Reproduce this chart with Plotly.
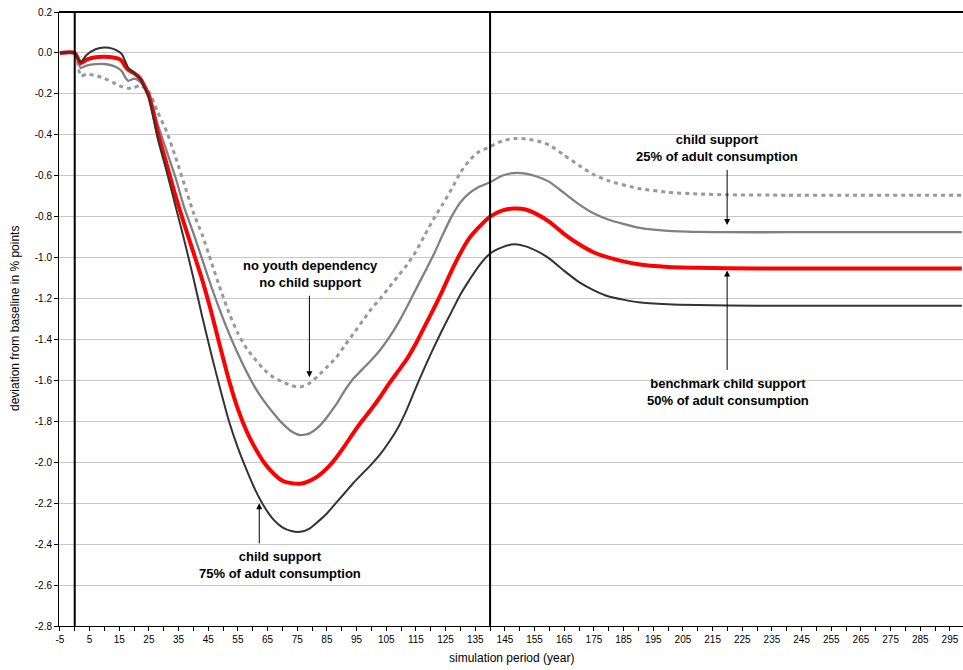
import plotly.graph_objects as go

# Simulation years (category axis) and the four scenarios, deviation in % points
years = [-5, 0, 2, 4, 7, 10, 13, 15, 16, 17, 18, 20, 22, 25, 28, 31, 34, 37, 40, 43,
         46, 49, 52, 55, 58, 61, 64, 67, 70, 73, 76, 79, 82, 85, 88, 91, 94, 97, 100, 103,
         106, 109, 112, 115, 118, 121, 124, 127, 130, 133, 136, 140, 144, 148, 152, 156, 160, 165, 170, 175,
         180, 190, 200, 210, 220, 240, 260, 280, 299]

support_75 = [0, 0, -0.045, -0.01, 0.018, 0.027, 0.02, 0.005, -0.008, -0.04, -0.072, -0.097, -0.125, -0.22, -0.42, -0.58, -0.75, -0.92, -1.10, -1.29,
              -1.47, -1.64, -1.80, -1.93, -2.04, -2.14, -2.22, -2.28, -2.318, -2.336, -2.34, -2.325, -2.29, -2.25, -2.20, -2.15, -2.10, -2.055, -2.01, -1.96,
              -1.90, -1.83, -1.74, -1.635, -1.535, -1.44, -1.35, -1.265, -1.18, -1.11, -1.045, -0.98, -0.95, -0.935, -0.945, -0.97, -1.005, -1.065, -1.12, -1.16,
              -1.19, -1.218, -1.228, -1.232, -1.234, -1.235, -1.235, -1.235, -1.235]

support_50 = [0, 0, -0.05, -0.033, -0.021, -0.019, -0.022, -0.03, -0.042, -0.065, -0.082, -0.099, -0.124, -0.21, -0.39, -0.545, -0.70, -0.84, -0.975, -1.11,
              -1.265, -1.435, -1.60, -1.74, -1.85, -1.935, -2.005, -2.055, -2.09, -2.102, -2.105, -2.092, -2.068, -2.03, -1.98, -1.92, -1.855, -1.795, -1.74, -1.68,
              -1.615, -1.555, -1.495, -1.42, -1.335, -1.25, -1.16, -1.065, -0.978, -0.905, -0.855, -0.80, -0.77, -0.76, -0.765, -0.79, -0.825, -0.885, -0.935, -0.975,
              -1.00, -1.033, -1.046, -1.050, -1.052, -1.053, -1.053, -1.053, -1.053]

support_25 = [0, 0, -0.073, -0.062, -0.055, -0.054, -0.063, -0.078, -0.092, -0.118, -0.136, -0.126, -0.14, -0.20, -0.35, -0.48, -0.61, -0.76, -0.88, -1.01,
              -1.14, -1.26, -1.37, -1.47, -1.56, -1.64, -1.705, -1.76, -1.81, -1.848, -1.867, -1.86, -1.83, -1.78, -1.72, -1.65, -1.59, -1.545, -1.50, -1.45,
              -1.39, -1.32, -1.24, -1.155, -1.07, -0.985, -0.89, -0.80, -0.73, -0.685, -0.656, -0.632, -0.60, -0.587, -0.59, -0.605, -0.63, -0.685, -0.74, -0.785,
              -0.815, -0.853, -0.869, -0.874, -0.876, -0.876, -0.876, -0.876, -0.876]

no_youth = [0, 0, -0.112, -0.104, -0.11, -0.124, -0.145, -0.16, -0.166, -0.17, -0.173, -0.17, -0.158, -0.19, -0.29, -0.385, -0.51, -0.645, -0.78, -0.89,
            -1.02, -1.15, -1.27, -1.37, -1.445, -1.50, -1.55, -1.585, -1.607, -1.625, -1.632, -1.615, -1.578, -1.535, -1.49, -1.43, -1.37, -1.31, -1.25, -1.20,
            -1.145, -1.09, -1.035, -0.97, -0.89, -0.81, -0.74, -0.665, -0.585, -0.525, -0.485, -0.458, -0.43, -0.418, -0.42, -0.43, -0.45, -0.50, -0.55, -0.595,
            -0.625, -0.662, -0.681, -0.689, -0.693, -0.695, -0.695, -0.695, -0.695]

y_tick_labels = ["-2.8", "-2.6", "-2.4", "-2.2", "-2.0", "-1.8", "-1.6", "-1.4", "-1.2", "-1.0",
                 "-0.8", "-0.6", "-0.4", "-0.2", "0.0", "0.2"]
y_tick_vals = [float(t) for t in y_tick_labels]
x_tick_vals = list(range(-5, 300, 5))
x_tick_labels = [str(v) if (v + 5) % 10 == 0 else "" for v in x_tick_vals]

marker_years = [0, 140]

FONT = "Liberation Sans, Arial, sans-serif"

fig = go.Figure()

series = [
    (no_youth, dict(color="#999999", width=3, dash="4px,4px")),
    (support_25, dict(color="#808080", width=2.3)),
    (support_50, dict(color="#FF0000", width=4)),
    (support_75, dict(color="#333333", width=2)),
]
for values, style in series:
    fig.add_trace(go.Scatter(
        x=years, y=values, mode="lines",
        line=dict(shape="spline", smoothing=0.6, **style),
        hoverinfo="skip",
    ))

shapes = []
for yr in marker_years:
    shapes.append(dict(type="line", xref="x", yref="paper", x0=yr, x1=yr, y0=0, y1=1,
                       line=dict(color="black", width=2)))
shapes.append(dict(type="line", xref="paper", yref="paper", x0=0, x1=1, y0=1, y1=1,
                   line=dict(color="black", width=2)))

label_font = dict(family=FONT, size=13, color="black")
annotations = []

# scenario labels
labels = [
    (216.6, -0.466, "<b>child support</b><br><b>25% of adult consumption</b>"),
    (220.3, -1.659, "<b>benchmark child support</b><br><b>50% of adult consumption</b>"),
    (79.6, -1.080, "<b>no youth dependency</b><br><b>no child support</b>"),
    (69.2, -2.502, "<b>child support</b><br><b>75% of adult consumption</b>"),
]
for x, y, txt in labels:
    annotations.append(dict(x=x, y=y, xref="x", yref="y", text=txt, showarrow=False,
                            font=label_font, align="center", xanchor="center", yanchor="middle"))

# pointer arrows (tail -> head)
arrows = [
    (219.9, -0.564, -0.841),
    (219.9, -1.556, -1.063),
    (79.1, -1.179, -1.585),
    (62.2, -2.404, -2.200),
]
for x, y_tail, y_head in arrows:
    annotations.append(dict(x=x, y=y_head, ax=x, ay=y_tail, xref="x", yref="y",
                            axref="x", ayref="y", text="", showarrow=True,
                            arrowhead=2, arrowsize=1.2, arrowwidth=1, arrowcolor="black"))

# axis titles
annotations.append(dict(x=0.5, y=0, xref="paper", yref="paper", yshift=-32,
                        text="simulation period (year)", showarrow=False,
                        font=dict(family=FONT, size=12, color="black"),
                        xanchor="center", yanchor="middle"))
annotations.append(dict(x=0, y=0.5, xref="paper", yref="paper", xshift=-44,
                        text="deviation from baseline in % points", showarrow=False,
                        textangle=-90, font=dict(family=FONT, size=12, color="black"),
                        xanchor="center", yanchor="middle"))

fig.update_layout(
    width=963, height=670,
    margin=dict(l=59, r=0, t=12, b=44),
    paper_bgcolor="white", plot_bgcolor="white",
    showlegend=False,
    font=dict(family=FONT, size=10, color="black"),
    shapes=shapes,
    annotations=annotations,
    xaxis=dict(range=[-5.3, 299.4], tickmode="array", tickvals=x_tick_vals, ticktext=x_tick_labels,
               ticks="outside", ticklen=4, tickcolor="black", showline=True, linecolor="black",
               linewidth=1, showgrid=False, zeroline=False, tickfont=dict(size=10), fixedrange=True),
    yaxis=dict(range=[-2.8, 0.2], tickmode="array", tickvals=y_tick_vals, ticktext=y_tick_labels,
               ticks="outside", ticklen=4, tickcolor="black", showline=True, linecolor="black",
               linewidth=1, showgrid=True, gridcolor="#c8c8c8", gridwidth=1, zeroline=False,
               tickfont=dict(size=10), fixedrange=True),
)

fig.write_html("out.html")
